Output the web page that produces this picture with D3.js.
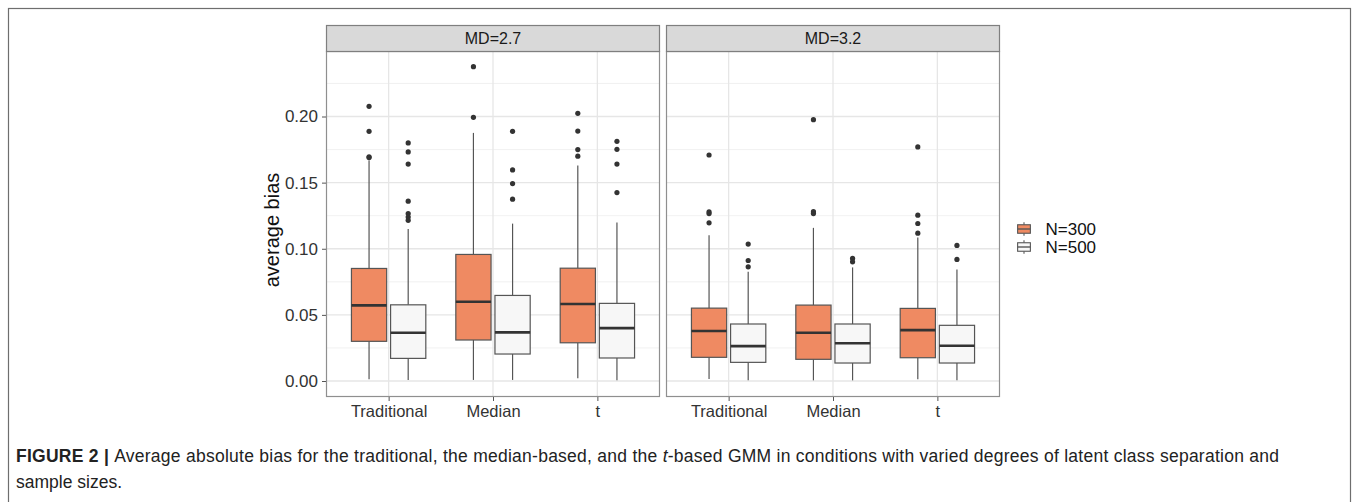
<!DOCTYPE html>
<html>
<head>
<meta charset="utf-8">
<script src="https://cdn.jsdelivr.net/npm/d3@7"></script>
<style>
  body { margin: 0; background: #fff; }
  svg text { font-family: "Liberation Sans", Arial, Helvetica, sans-serif; }
</style>
</head>
<body>
<div id="wrapper"></div>
<script>
// categories
const panels = ["MD=2.7", "MD=3.2"];
const methods = ["Traditional", "Median", "t"];
const sizes = ["N=300", "N=500"];

// box statistics, one entry per box: panel -> method -> size
const lowerWhisker = [0.0013, 0.0008, 0.0008, 0.0008, 0.0020, 0.0005,
                      0.0015, 0.0005, 0.0005, 0.0005, 0.0013, 0.0005];
const q1 = [0.0300, 0.0171, 0.0310, 0.0204, 0.0289, 0.0174,
            0.0179, 0.0141, 0.0164, 0.0136, 0.0176, 0.0136];
const median = [0.0572, 0.0365, 0.0599, 0.0368, 0.0582, 0.0400,
                0.0378, 0.0264, 0.0365, 0.0285, 0.0385, 0.0267];
const q3 = [0.0851, 0.0576, 0.0957, 0.0647, 0.0853, 0.0587,
            0.0551, 0.0431, 0.0574, 0.0431, 0.0549, 0.0421];
const upperWhisker = [0.167, 0.115, 0.1876, 0.119, 0.163, 0.1198,
                      0.1103, 0.0826, 0.1158, 0.0859, 0.1085, 0.0844];
const outliers = [
    [0.2077, 0.1888, 0.1695, 0.169],
    [0.180, 0.1732, 0.164, 0.136, 0.1266, 0.124, 0.1215],
    [0.2377, 0.1994],
    [0.1888, 0.1596, 0.1493, 0.1375],
    [0.2024, 0.189, 0.175, 0.170],
    [0.1812, 0.1752, 0.164, 0.1425],
    [0.1709, 0.1279, 0.1266, 0.1196],
    [0.1035, 0.0911, 0.0863],
    [0.1976, 0.128, 0.1266],
    [0.0927, 0.0901],
    [0.177, 0.1254, 0.1191, 0.1118],
    [0.1025, 0.0919]
];

const yTicks = [0, 0.05, 0.10, 0.15, 0.20];
const yMinor = [0.025, 0.075, 0.125, 0.175, 0.225];
const fills = ["#EF8A62", "#F7F7F7"];

const boxes = [];
panels.forEach((p, pi) => methods.forEach((m, mi) => sizes.forEach((s, si) => {
    const i = pi * 6 + mi * 2 + si;
    boxes.push({panel: p, method: m, size: s,
        lw: lowerWhisker[i], q1: q1[i], med: median[i], q3: q3[i], uw: upperWhisker[i],
        out: outliers[i]});
})));

const dim = {width: 1357, height: 502};
const panelTop = 51, panelBottom = 397, stripTop = 25;
const panelX = [[326, 660], [666, 1000]];

const svg = d3.select("#wrapper").append("svg")
    .attr("width", dim.width)
    .attr("height", dim.height);

// figure frame
svg.append("rect")
    .attr("x", 8.5).attr("y", 8.5)
    .attr("width", 1342).attr("height", 520)
    .attr("fill", "none")
    .attr("stroke", "#6e6e6e")
    .attr("stroke-width", 1.2);

const yScale = d3.scaleLinear()
    .domain([0, 0.2])
    .range([381, 116.5]);

const fillScale = d3.scaleOrdinal().domain(sizes).range(fills);

panels.forEach((p, pi) => {
    const [x0, x1] = panelX[pi];
    const xScale = d3.scalePoint().domain(methods).range([x0, x1]).padding(0.6);
    const step = xScale.step();
    const dodge = d3.scaleBand().domain(sizes)
        .range([-0.375 * step, 0.375 * step])
        .paddingInner(0.1).paddingOuter(0.05);

    const g = svg.append("g");

    // background grid
    g.selectAll(".minor").data(yMinor).enter().append("line")
        .attr("x1", x0).attr("x2", x1)
        .attr("y1", d => yScale(d)).attr("y2", d => yScale(d))
        .attr("stroke", "#EEEEEE").attr("stroke-width", 0.8);
    g.selectAll(".major").data(yTicks).enter().append("line")
        .attr("x1", x0).attr("x2", x1)
        .attr("y1", d => yScale(d)).attr("y2", d => yScale(d))
        .attr("stroke", "#E6E6E6").attr("stroke-width", 1.3);
    g.selectAll(".vmajor").data(methods).enter().append("line")
        .attr("x1", d => xScale(d)).attr("x2", d => xScale(d))
        .attr("y1", panelTop).attr("y2", panelBottom)
        .attr("stroke", "#E6E6E6").attr("stroke-width", 1.3);

    const pb = boxes.filter(b => b.panel === p);
    const bg = g.selectAll(".box").data(pb).enter().append("g");
    const cx = d => xScale(d.method) + dodge(d.size) + dodge.bandwidth() / 2;

    bg.append("line")
        .attr("x1", cx).attr("x2", cx)
        .attr("y1", d => yScale(d.uw)).attr("y2", d => yScale(d.q3))
        .attr("stroke", "#555").attr("stroke-width", 1.2);
    bg.append("line")
        .attr("x1", cx).attr("x2", cx)
        .attr("y1", d => yScale(d.q1)).attr("y2", d => yScale(d.lw))
        .attr("stroke", "#555").attr("stroke-width", 1.2);
    bg.append("rect")
        .attr("x", d => xScale(d.method) + dodge(d.size))
        .attr("width", dodge.bandwidth())
        .attr("y", d => yScale(d.q3))
        .attr("height", d => yScale(d.q1) - yScale(d.q3))
        .attr("fill", d => fillScale(d.size))
        .attr("stroke", "#555").attr("stroke-width", 1.2);
    bg.append("line")
        .attr("x1", d => xScale(d.method) + dodge(d.size))
        .attr("x2", d => xScale(d.method) + dodge(d.size) + dodge.bandwidth())
        .attr("y1", d => yScale(d.med)).attr("y2", d => yScale(d.med))
        .attr("stroke", "#333").attr("stroke-width", 2.6);
    bg.selectAll("circle").data(d => d.out.map(v => ({x: cx(d), v}))).enter().append("circle")
        .attr("cx", d => d.x).attr("cy", d => yScale(d.v))
        .attr("r", 2.6).attr("fill", "#333");

    // panel border
    g.append("rect")
        .attr("x", x0 + 0.5).attr("y", panelTop + 0.5)
        .attr("width", x1 - x0 - 1).attr("height", panelBottom - panelTop - 1)
        .attr("fill", "none").attr("stroke", "#8f8f8f").attr("stroke-width", 1.2);

    // strip
    g.append("rect")
        .attr("x", x0 + 0.5).attr("y", stripTop + 0.5)
        .attr("width", x1 - x0 - 1).attr("height", panelTop - stripTop)
        .attr("fill", "#D9D9D9").attr("stroke", "#7f7f7f").attr("stroke-width", 1.2);
    g.append("text")
        .attr("x", (x0 + x1) / 2).attr("y", 44)
        .attr("text-anchor", "middle")
        .attr("font-size", "16px").attr("fill", "#1a1a1a")
        .text(p);

    // x axis
    const xAxis = g.append("g")
        .attr("transform", `translate(0,${panelBottom})`)
        .call(d3.axisBottom(xScale).tickSize(4).tickPadding(4));
    xAxis.select(".domain").remove();
    xAxis.selectAll("line").attr("stroke", "#555");
    xAxis.selectAll("text").attr("font-size", "16.5px").attr("fill", "#333")
        .style("font-family", "'Liberation Sans', Arial, sans-serif");

    if (pi === 0) {
        const yAxis = g.append("g")
            .attr("transform", `translate(${x0},0)`)
            .call(d3.axisLeft(yScale).tickValues(yTicks).tickFormat(d3.format(".2f")).tickSize(4).tickPadding(4));
        yAxis.select(".domain").remove();
        yAxis.selectAll("line").attr("stroke", "#555");
        yAxis.selectAll("text").attr("font-size", "17px").attr("fill", "#333")
            .style("font-family", "'Liberation Sans', Arial, sans-serif");
    }
});

// y title
svg.append("text")
    .attr("transform", "translate(279,230) rotate(-90)")
    .attr("text-anchor", "middle")
    .attr("font-size", "20px").attr("fill", "#111")
    .text("average bias");

// legend
const leg = svg.append("g").attr("transform", "translate(1015.5,220.5)");
const keys = leg.selectAll("g").data(sizes).enter().append("g")
    .attr("transform", (d, i) => `translate(0,${i * 18})`);
const k = 17;
keys.append("line").attr("x1", k / 2).attr("x2", k / 2).attr("y1", k * 0.1).attr("y2", k * 0.25)
    .attr("stroke", "#555").attr("stroke-width", 1.1);
keys.append("line").attr("x1", k / 2).attr("x2", k / 2).attr("y1", k * 0.75).attr("y2", k * 0.9)
    .attr("stroke", "#555").attr("stroke-width", 1.1);
keys.append("rect").attr("x", k * 0.125).attr("y", k * 0.25)
    .attr("width", k * 0.75).attr("height", k * 0.5)
    .attr("fill", d => fillScale(d)).attr("stroke", "#555").attr("stroke-width", 1.1);
keys.append("line").attr("x1", k * 0.125).attr("x2", k * 0.875).attr("y1", k / 2).attr("y2", k / 2)
    .attr("stroke", "#555").attr("stroke-width", 1.4);
keys.append("text")
    .attr("x", 30).attr("y", k / 2 + 6)
    .attr("font-size", "17px").attr("fill", "#111")
    .text(d => d);

// caption
const cap = svg.append("text")
    .attr("x", 16).attr("y", 462)
    .attr("font-size", "17.5px").attr("fill", "#222")
    .attr("textLength", 1263).attr("lengthAdjust", "spacing");
cap.append("tspan").attr("font-weight", "bold").text("FIGURE 2 | ");
cap.append("tspan").text("Average absolute bias for the traditional, the median-based, and the ");
cap.append("tspan").attr("font-style", "italic").text("t");
cap.append("tspan").text("-based GMM in conditions with varied degrees of latent class separation and");
svg.append("text")
    .attr("x", 16).attr("y", 488)
    .attr("font-size", "17.5px").attr("fill", "#222")
    .text("sample sizes.");
</script>
</body>
</html>
